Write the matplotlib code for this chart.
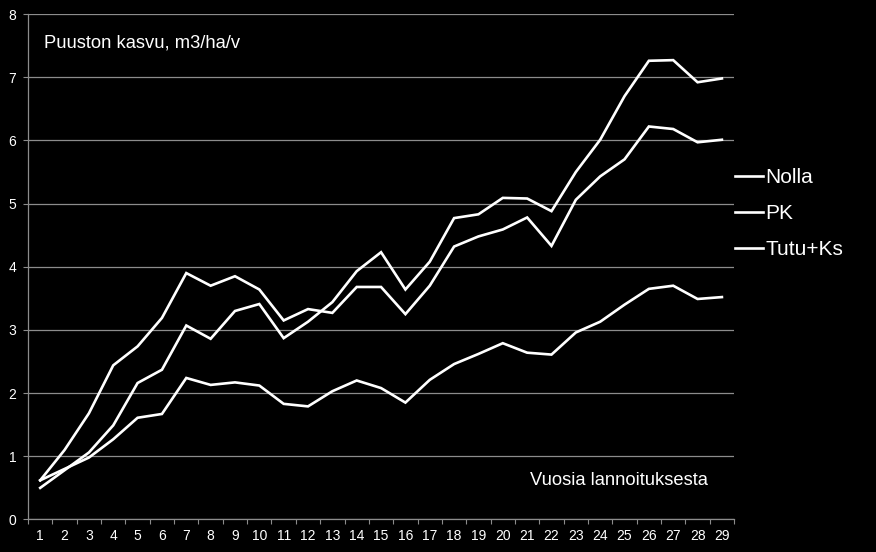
import matplotlib
matplotlib.use("Agg")
import matplotlib.pyplot as plt
from matplotlib.ticker import MultipleLocator

plt.rcParams['font.family'] = ['Liberation Sans', 'DejaVu Sans']

# vuodet lannoituksesta
years = list(range(1, 30))

nolla = [0.62, 0.80, 0.98, 1.27, 1.61, 1.67, 2.24, 2.13, 2.17, 2.12,
         1.83, 1.79, 2.03, 2.20, 2.08, 1.85, 2.21, 2.46, 2.62, 2.79,
         2.64, 2.61, 2.96, 3.13, 3.40, 3.65, 3.70, 3.49, 3.52]
pk = [0.62, 1.10, 1.68, 2.44, 2.74, 3.19, 3.90, 3.70, 3.85, 3.64,
      3.15, 3.33, 3.27, 3.68, 3.68, 3.25, 3.70, 4.32, 4.48, 4.59,
      4.78, 4.33, 5.06, 5.43, 5.70, 6.22, 6.18, 5.97, 6.01]
tutu_ks = [0.50, 0.78, 1.06, 1.49, 2.16, 2.37, 3.07, 2.86, 3.30, 3.41,
           2.87, 3.13, 3.44, 3.93, 4.23, 3.64, 4.08, 4.77, 4.83, 5.09,
           5.08, 4.88, 5.50, 6.01, 6.70, 7.26, 7.27, 6.92, 6.98]
labels = ["Nolla", "PK", "Tutu+Ks"]

fig = plt.figure(figsize=(8.76, 5.52), dpi=100, facecolor="black")
ax = fig.add_axes([0.032, 0.0589, 0.806, 0.9157], facecolor="black")

for vals, lab in zip([nolla, pk, tutu_ks], labels):
    ax.plot(years, vals, color="white", linewidth=1.9, label=lab,
            solid_joinstyle="miter")

ax.set_xlim(0.5, 29.5)
ax.set_ylim(0, 8)
ax.set_xticks(years)
ax.xaxis.set_minor_locator(MultipleLocator(1, offset=0.5))
ax.tick_params(axis="x", which="major", length=0, pad=7, labelsize=10, colors="white")
ax.tick_params(axis="x", which="minor", length=3.5, width=0.8, color="#8c8c8c", direction="out")
ax.set_yticks(range(0, 9))
ax.tick_params(axis="y", length=3.5, width=0.8, color="#8c8c8c", pad=5, labelsize=10,
               labelcolor="white")

ax.grid(axis="y", color="#8c8c8c", linewidth=0.9)
ax.set_axisbelow(True)
for s in ["top", "right"]:
    ax.spines[s].set_visible(False)
for s in ["left", "bottom"]:
    ax.spines[s].set_color("#8c8c8c")
    ax.spines[s].set_linewidth(0.9)

ax.text(0.0227, 0.9426, "Puuston kasvu, m3/ha/v", transform=ax.transAxes,
        color="white", fontsize=13.25, va="center", ha="left")
ax.text(0.963, 0.0768, "Vuosia lannoituksesta", transform=ax.transAxes,
        color="white", fontsize=13.25, va="center", ha="right")

leg = fig.legend(loc="center left", bbox_to_anchor=(0.827, 0.613), frameon=False,
                 fontsize=15, labelcolor="white", handlelength=1.35,
                 handletextpad=0.1, labelspacing=0.82, borderpad=0)

fig.savefig("out.png", dpi=100, facecolor="black")
